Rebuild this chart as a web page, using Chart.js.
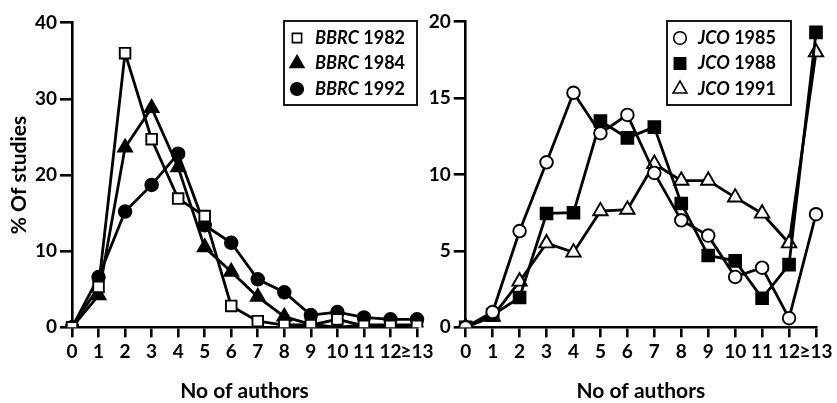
<!DOCTYPE html>
<html><head><meta charset="utf-8">
<script src="https://cdn.jsdelivr.net/npm/chart.js@4"></script>
<style>
html,body{margin:0;padding:0;background:#fff;}
#wrap{position:relative;width:837px;height:403px;overflow:hidden;background:#fff;}
#c1{position:absolute;left:0;top:0;}
#c2{position:absolute;left:420px;top:0;}
</style></head><body>
<div id="wrap"><canvas id="c1" width="445" height="403"></canvas><canvas id="c2" width="417" height="403"></canvas></div>
<script>
// ---- data ----
const authorLabels = ['0','1','2','3','4','5','6','7','8','9','10','11','12','≥13'];
const leftTicks = [0, 10, 20, 30, 40];
const rightTicks = [0, 5, 10, 15, 20];

const bbrcJournal = 'BBRC';
const bbrcYears = ['1982', '1984', '1992'];
const bbrc1982 = [0, 5.3, 36.0, 24.7, 16.9, 14.6, 2.8, 0.8, 0.3, 0.3, 1.05, 0.2, 0.2, 0.2];
const bbrc1984 = [0, 4.2, 23.6, 28.8, 21.0, 10.5, 7.3, 4.0, 1.4, 0.4, 0.0, 0.3, 0.3, 0.3];
const bbrc1992 = [0, 6.6, 15.2, 18.7, 22.8, 13.4, 11.1, 6.3, 4.6, 1.6, 2.0, 1.3, 1.05, 1.05];

const jcoJournal = 'JCO';
const jcoYears = ['1985', '1988', '1991'];
const jco1985 = [0, 1.0, 6.3, 10.8, 15.35, 12.7, 13.9, 10.1, 7.0, 6.0, 3.3, 3.9, 0.6, 7.4];
const jco1988 = [0, 0.8, 1.95, 7.45, 7.5, 13.5, 12.4, 13.1, 8.1, 4.7, 4.35, 1.9, 4.1, 19.3];
const jco1991 = [0, 0.7, 3.0, 5.5, 4.9, 7.6, 7.7, 10.7, 9.6, 9.6, 8.5, 7.45, 5.5, 18.0];

// ---- styling ----
const FONT = 'Lato, "Open Sans", sans-serif';
const WEIGHT = 'bold';
const INK = '#000';

function ds(label, data, style, fill, radius) {
  return {
    label, data,
    borderColor: INK, borderWidth: 2.8,
    pointStyle: style, pointRadius: radius, pointHoverRadius: radius,
    pointBackgroundColor: fill, pointBorderColor: INK, pointBorderWidth: 1.9,
    tension: 0, fill: false
  };
}

const boxLegend = {
  id: 'boxLegend',
  afterDatasetsDraw(chart, args, o) {
    const ctx = chart.ctx;
    ctx.save();
    ctx.strokeStyle = INK; ctx.lineWidth = 1.8;
    ctx.strokeRect(o.x, o.y, o.w, o.h);
    chart.data.datasets.forEach((d, i) => {
      const cy = o.y + o.row0 + i * o.rowH;
      ctx.fillStyle = d.pointBackgroundColor; ctx.strokeStyle = INK; ctx.lineWidth = 1.6;
      Chart.helpers.drawPoint(ctx, {pointStyle: d.pointStyle, radius: o.markR[i], borderWidth: 1.6}, o.mx, cy);
      ctx.fillStyle = INK; ctx.textBaseline = 'middle'; ctx.textAlign = 'left';
      ctx.font = 'italic ' + WEIGHT + ' 18px ' + FONT;
      ctx.fillText(o.journal, o.tx, cy);
      const w = ctx.measureText(o.journal).width;
      ctx.font = WEIGHT + ' 18px ' + FONT;
      ctx.fillText(' ' + o.years[i], o.tx + w, cy);
    });
    ctx.restore();
  }
};

function axisCommon() {
  return {
    grid: {display: true, drawOnChartArea: false, drawTicks: true, color: INK, lineWidth: 2.6},
    border: {display: true, color: INK, width: 2.6},
    ticks: {color: INK, font: {family: FONT, size: 19, weight: WEIGHT}}
  };
}

function makeChart(id, datasets, yTicks, yMax, yTitle, yAxisW, xAxisH, pad, legendOpts) {
  const x = axisCommon();
  x.type = 'category'; x.offset = false;
  x.grid.tickLength = 10;
  x.ticks.autoSkip = false; x.ticks.maxRotation = 0; x.ticks.padding = 3;
  x.title = {display: true, text: 'No of authors', color: INK, font: {family: FONT, size: 21, weight: WEIGHT, lineHeight: 1.1}, padding: {top: 0, bottom: 0}};
  x.afterFit = s => { s.height = xAxisH; };
  const y = axisCommon();
  y.min = 0; y.max = yMax;
  y.grid.tickLength = 12;
  y.ticks.padding = 3;
  y.afterBuildTicks = s => { s.ticks = yTicks.map(v => ({value: v})); };
  y.title = {display: !!yTitle, text: yTitle || '', color: INK, font: {family: FONT, size: 21, weight: WEIGHT, lineHeight: 1.1}, padding: {top: 8, bottom: 0}};
  y.afterFit = s => { s.width = yAxisW; };
  return new Chart(document.getElementById(id), {
    type: 'line',
    data: {labels: authorLabels, datasets},
    options: {
      responsive: false, animation: false, devicePixelRatio: 1,
      layout: {padding: pad},
      scales: {x, y},
      plugins: {legend: {display: false}, tooltip: {enabled: false}, boxLegend: legendOpts}
    },
    plugins: [boxLegend]
  });
}

makeChart('c1', [
  ds(bbrcJournal + ' ' + bbrcYears[0], bbrc1982, 'rect', '#fff', 7.5),
  ds(bbrcJournal + ' ' + bbrcYears[1], bbrc1984, 'triangle', INK, 8),
  ds(bbrcJournal + ' ' + bbrcYears[2], bbrc1992, 'circle', INK, 6.3)
], leftTicks, 40, '% Of studies', 72, 75.7, {left: 0, right: 28, top: 22.7, bottom: 0},
{x: 284, y: 21, w: 133, h: 84, row0: 17, rowH: 25.5, mx: 297, tx: 315, markR: [6.5, 8, 6.3], journal: bbrcJournal, years: bbrcYears});

makeChart('c2', [
  ds(jcoJournal + ' ' + jcoYears[0], jco1985, 'circle', '#fff', 6.3),
  ds(jcoJournal + ' ' + jcoYears[1], jco1988, 'rect', INK, 8.3),
  ds(jcoJournal + ' ' + jcoYears[2], jco1991, 'triangle', '#fff', 8.3)
], rightTicks, 20, '', 45.7, 75.7, {left: 0, right: 21, top: 21.7, bottom: 0},
{x: 247, y: 21, w: 124, h: 84, row0: 17, rowH: 25.5, mx: 260, tx: 278, markR: [6.3, 8, 8], journal: jcoJournal, years: jcoYears});
</script>
</body></html>
